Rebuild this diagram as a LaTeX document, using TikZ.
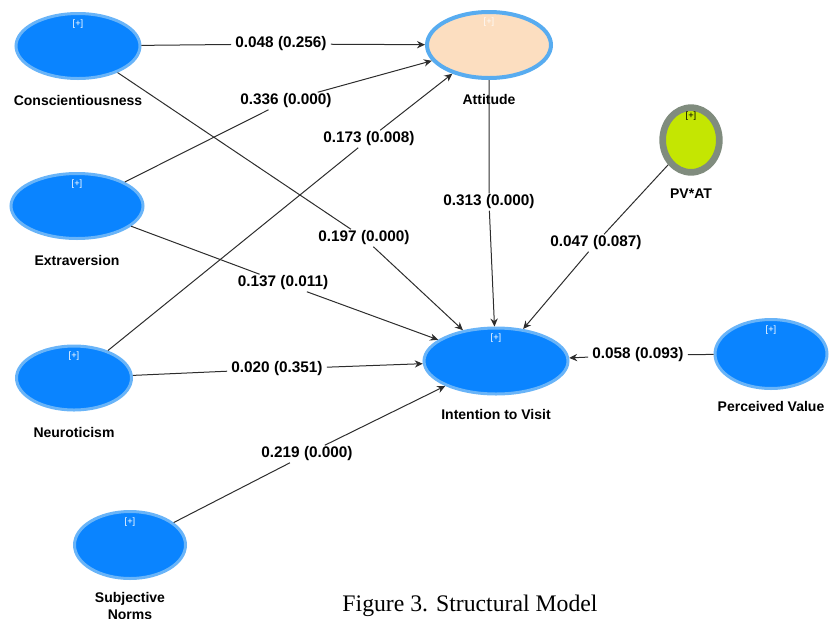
\documentclass[tikz,border=0pt]{standalone}
\usepackage{fontspec}
\setmainfont{Liberation Sans}
\newfontfamily\captionfont{Liberation Serif}
\usepackage{xcolor}
\usepackage{tikz}
\usetikzlibrary{shapes.geometric, arrows.meta, positioning}
\definecolor{lvBlue}{RGB}{10,132,255}
\definecolor{lvBorder}{RGB}{105,180,248}
\definecolor{attPeach}{RGB}{252,222,192}
\definecolor{attBorder}{RGB}{88,172,240}
\definecolor{modGreen}{RGB}{196,230,2}
\definecolor{modGray}{RGB}{128,140,126}
\definecolor{edgeGray}{RGB}{45,45,45}
\tikzstyle{arrow} = [line width=0.75pt, draw=edgeGray, ->, >={Stealth[length=6pt,width=5.5pt]}]
\tikzstyle{latent} = [ellipse, draw=lvBorder, fill=lvBlue, line width=2.25pt]
\tikzstyle{attlatent} = [ellipse, draw=attBorder, fill=attPeach, line width=3pt]
\tikzstyle{modlatent} = [ellipse, draw=modGray, fill=modGreen, line width=5pt]
\tikzstyle{lvname} = [font=\fontsize{10.5}{12.5}\selectfont\bfseries, align=center]
\tikzstyle{coef} = [font=\fontsize{11.5}{13}\selectfont\bfseries, fill=white, inner xsep=3pt, inner ysep=1pt]
\tikzstyle{plus} = [font=\fontsize{7}{8}\selectfont, text=white, inner sep=0pt]

\begin{document}
\begin{tikzpicture}[x=0.75pt, y=-0.75pt]
\useasboundingbox (0,0) rectangle (835,618);
%----------------------------------------------------------------------------
% Placement of latent variables
\node (conscient) [latent, minimum width=93pt, minimum height=48.75pt] at (78,46) {};
\node (attitude) [attlatent, minimum width=93pt, minimum height=49.5pt] at (489,45) {};
\node (extraversion) [latent, minimum width=99pt, minimum height=48.75pt] at (77,206) {};
\node (pvAt) [modlatent, minimum width=42.5pt, minimum height=48.5pt] at (691,140) {};
\node (neuroticism) [latent, minimum width=86.25pt, minimum height=48pt] at (74,378) {};
\node (intentVisit) [latent, minimum width=108pt, minimum height=49.5pt] at (496,361) {};
\node (percValue) [latent, minimum width=84pt, minimum height=51.75pt] at (771,354) {};
\node (subjNorms) [latent, minimum width=83.25pt, minimum height=50.25pt] at (130,545) {};

% expand marks
\node (conscientPlus) [plus] at ([yshift=-9pt]conscient.north) {[+]};
\node (attitudePlus) [plus, text=white!85!attPeach] at ([yshift=-9pt]attitude.north) {[+]};
\node (extraversionPlus) [plus] at ([yshift=-9pt]extraversion.north) {[+]};
\node (pvAtPlus) [plus, text=black] at ([yshift=-9pt]pvAt.north) {[+]};
\node (neuroticismPlus) [plus] at ([yshift=-9pt]neuroticism.north) {[+]};
\node (intentVisitPlus) [plus] at ([yshift=-9pt]intentVisit.north) {[+]};
\node (percValuePlus) [plus] at ([yshift=-9pt]percValue.north) {[+]};
\node (subjNormsPlus) [plus] at ([yshift=-9pt]subjNorms.north) {[+]};

% names
\node (conscientTxt) [lvname, below = 8pt of conscient] {Conscientiousness};
\node (attitudeTxt) [lvname, below = 7pt of attitude] {Attitude};
\node (extraversionTxt) [lvname, below = 8pt of extraversion] {Extraversion};
\node (pvAtTxt) [lvname, below = 6pt of pvAt] {PV*AT};
\node (neuroticismTxt) [lvname, below = 8pt of neuroticism] {Neuroticism};
\node (intentVisitTxt) [lvname, below = 7pt of intentVisit] {Intention to Visit};
\node (percValueTxt) [lvname, below = 5pt of percValue] {Perceived Value};
\node (subjNormsTxt) [lvname, below = 6pt of subjNorms] {Subjective\\Norms};

%----------------------------------------------------------------------------
% Path coefficients
\node (cConAtt) [coef] at (281,44) {0.048 (0.256)};
\node (cExtAtt) [coef] at (286,101) {0.336 (0.000)};
\node (cNeuAtt) [coef] at (369,139) {0.173 (0.008)};
\node (cConItv) [coef] at (364,238) {0.197 (0.000)};
\node (cExtItv) [coef] at (283,283) {0.137 (0.011)};
\node (cNeuItv) [coef] at (277,369) {0.020 (0.351)};
\node (cSnItv) [coef] at (307,454) {0.219 (0.000)};
\node (cAttItv) [coef] at (489,202) {0.313 (0.000)};
\node (cModItv) [coef] at (596,243) {0.047 (0.087)};
\node (cPvItv) [coef] at (638,355) {0.058 (0.093)};

%----------------------------------------------------------------------------
% Draw paths
\draw [arrow] (conscient) -- (cConAtt) -- (attitude);
\draw [arrow] (extraversion) -- (cExtAtt) -- (attitude);
\draw [arrow] (neuroticism) -- (cNeuAtt) -- (attitude);
\draw [arrow] (conscient) -- (cConItv) -- (intentVisit);
\draw [arrow] (extraversion) -- (cExtItv) -- (intentVisit);
\draw [arrow] (neuroticism) -- (cNeuItv) -- (intentVisit);
\draw [arrow] (subjNorms) -- (cSnItv) -- (intentVisit);
\draw [arrow] (attitude) -- (cAttItv) -- (intentVisit);
\draw [arrow] (pvAt) -- (cModItv) -- (intentVisit);
\draw [arrow] (percValue) -- (cPvItv) -- (intentVisit);

%----------------------------------------------------------------------------
% Caption
\node (caption) [font=\captionfont\fontsize{17.8}{20}\selectfont] at (470,606) {Figure 3. Structural Model};

\end{tikzpicture}
\end{document}
